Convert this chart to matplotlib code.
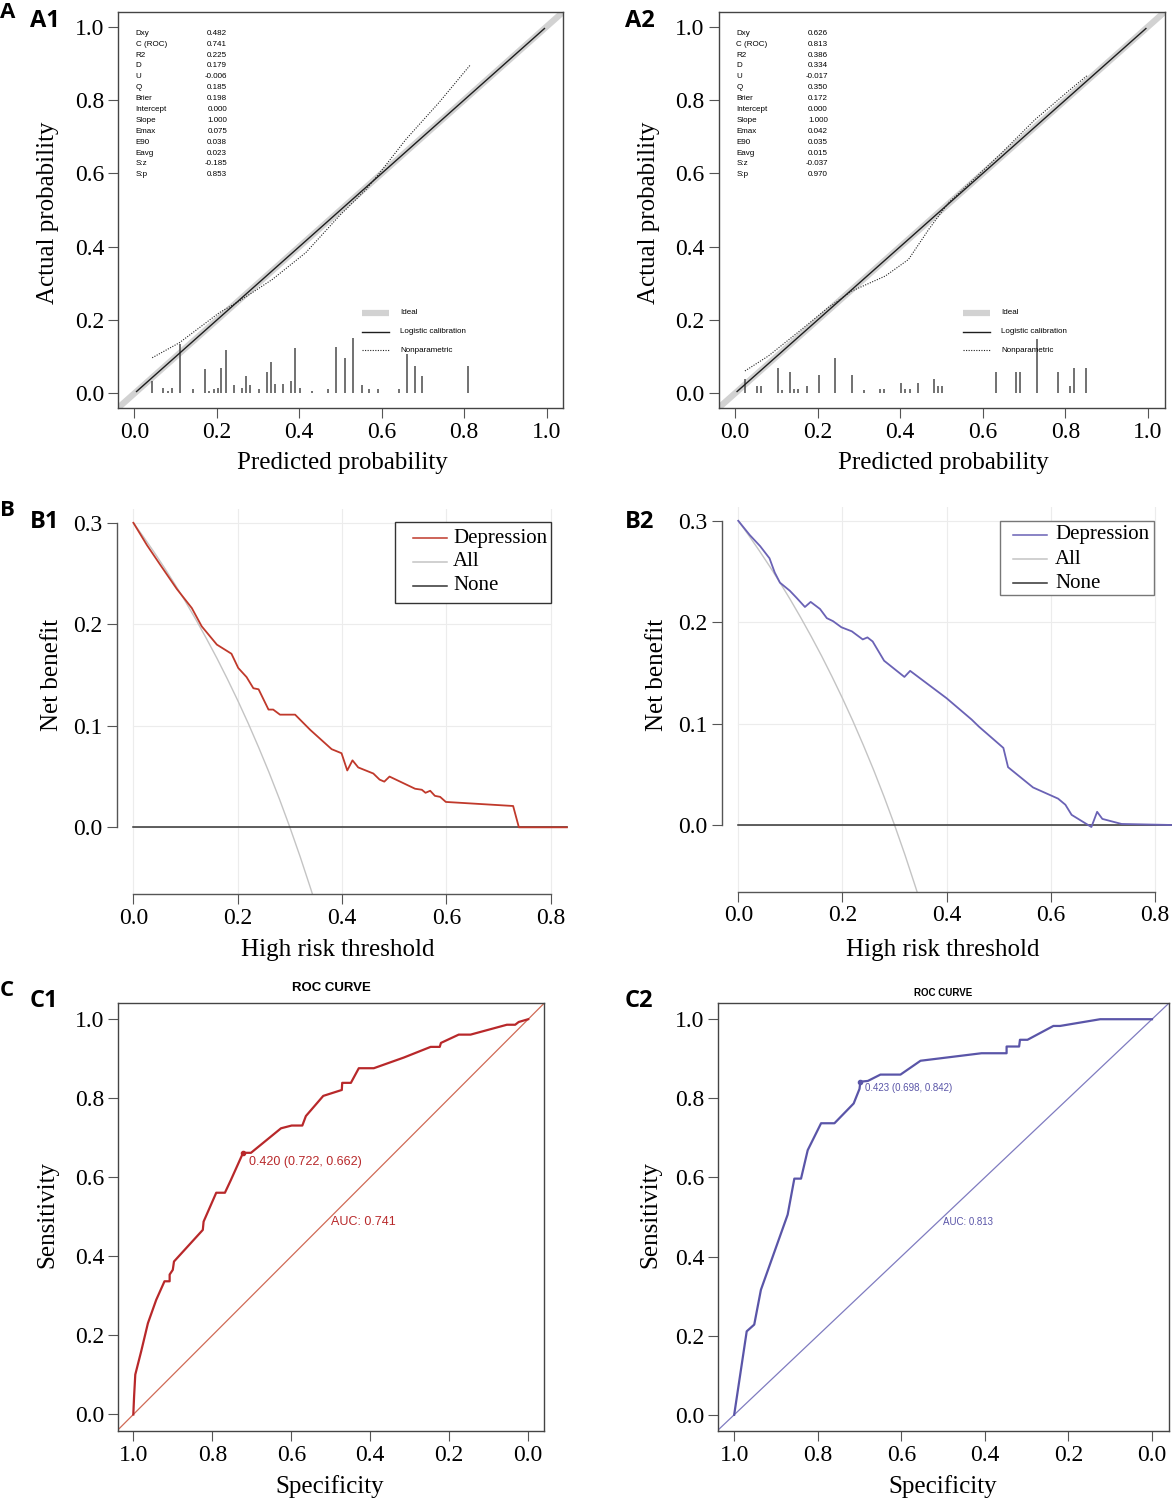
import matplotlib
matplotlib.use('Agg')
import matplotlib.pyplot as plt
from matplotlib.patches import Rectangle

W, H = 1172, 1502
SERIF = ['Liberation Serif', 'DejaVu Serif']
SANS = ['Liberation Sans', 'DejaVu Sans']
BOLD = ['Open Sans', 'DejaVu Sans']
plt.rcParams['font.family'] = SERIF

# ------------------------------------------------------------------ data
stat_names = ["Dxy", "C (ROC)", "R2", "D", "U", "Q", "Brier", "Intercept",
              "Slope", "Emax", "E90", "Eavg", "S:z", "S:p"]
stats_a1 = ["0.482", "0.741", "0.225", "0.179", "-0.006", "0.185", "0.198",
            "0.000", "1.000", "0.075", "0.038", "0.023", "-0.185", "0.853"]
stats_a2 = ["0.626", "0.813", "0.386", "0.334", "-0.017", "0.350", "0.172",
            "0.000", "1.000", "0.042", "0.035", "0.015", "-0.037", "0.970"]

logit_x = [0.005, 0.995]
logit_y = [0.005, 0.995]

np_a1_x = [0.043, 0.109, 0.206, 0.255, 0.335, 0.416, 0.497, 0.562, 0.602, 0.659, 0.739, 0.816]
np_a1_y = [0.097, 0.138, 0.220, 0.252, 0.311, 0.384, 0.484, 0.556, 0.611, 0.693, 0.793, 0.897]
np_a2_x = [0.024, 0.081, 0.162, 0.226, 0.283, 0.364, 0.420, 0.469, 0.517, 0.582, 0.646, 0.727, 0.808, 0.853]
np_a2_y = [0.061, 0.102, 0.175, 0.234, 0.279, 0.320, 0.365, 0.447, 0.520, 0.588, 0.656, 0.747, 0.825, 0.867]

spike_a1_x = [0.042, 0.070, 0.081, 0.091, 0.111, 0.141, 0.171, 0.182, 0.192, 0.202,
              0.210, 0.221, 0.242, 0.261, 0.271, 0.280, 0.301, 0.322, 0.331, 0.341,
              0.361, 0.380, 0.389, 0.402, 0.431, 0.470, 0.490, 0.511, 0.531, 0.551,
              0.570, 0.590, 0.641, 0.661, 0.680, 0.699, 0.810]
spike_a1_h = [0.034, 0.015, 0.006, 0.015, 0.134, 0.011, 0.065, 0.006, 0.011, 0.015,
              0.070, 0.118, 0.022, 0.015, 0.047, 0.022, 0.011, 0.059, 0.085, 0.026,
              0.026, 0.034, 0.123, 0.015, 0.005, 0.011, 0.127, 0.096, 0.150, 0.022,
              0.011, 0.011, 0.011, 0.106, 0.075, 0.047, 0.075]
spike_a2_x = [0.023, 0.053, 0.062, 0.104, 0.113, 0.132, 0.143, 0.153, 0.174, 0.203,
              0.242, 0.283, 0.313, 0.352, 0.361, 0.402, 0.412, 0.423, 0.443, 0.481,
              0.491, 0.501, 0.632, 0.681, 0.691, 0.731, 0.782, 0.810, 0.822, 0.851]
spike_a2_h = [0.040, 0.020, 0.020, 0.070, 0.008, 0.059, 0.011, 0.011, 0.020, 0.049,
              0.097, 0.049, 0.008, 0.011, 0.011, 0.029, 0.011, 0.011, 0.029, 0.040,
              0.020, 0.020, 0.059, 0.059, 0.059, 0.149, 0.059, 0.020, 0.070, 0.070]

# decision curves
thr_all = [0.00, 0.02, 0.04, 0.06, 0.08, 0.10, 0.12, 0.14, 0.16, 0.18, 0.20,
           0.22, 0.24, 0.26, 0.28, 0.30, 0.32, 0.34, 0.345]
nb_all = [0.300, 0.2857, 0.2708, 0.2553, 0.2391, 0.2222, 0.2045, 0.1860, 0.1667,
          0.1463, 0.125, 0.1026, 0.0789, 0.0541, 0.0278, 0.0, -0.0294, -0.0606, -0.0687]
none_x = [0.0, 0.832]
none_y = [0.0, 0.0]

b1_x = [0.000, 0.026, 0.051, 0.083, 0.112, 0.131, 0.160, 0.188, 0.201, 0.217,
        0.230, 0.240, 0.259, 0.268, 0.281, 0.310, 0.339, 0.380, 0.399, 0.410,
        0.420, 0.431, 0.460, 0.472, 0.481, 0.491, 0.540, 0.553, 0.560, 0.569,
        0.578, 0.588, 0.599, 0.728, 0.739, 0.831]
b1_y = [0.300, 0.278, 0.259, 0.235, 0.216, 0.198, 0.180, 0.171, 0.157, 0.148,
        0.137, 0.136, 0.116, 0.116, 0.111, 0.111, 0.096, 0.077, 0.073, 0.056,
        0.066, 0.059, 0.053, 0.047, 0.045, 0.050, 0.038, 0.037, 0.034, 0.036,
        0.031, 0.030, 0.025, 0.021, 0.000, 0.000]
b2_x = [0.000, 0.022, 0.042, 0.060, 0.070, 0.080, 0.099, 0.112, 0.128, 0.139,
        0.157, 0.170, 0.182, 0.198, 0.218, 0.239, 0.248, 0.258, 0.280, 0.319,
        0.330, 0.400, 0.448, 0.462, 0.509, 0.518, 0.566, 0.614, 0.628, 0.640,
        0.678, 0.689, 0.699, 0.736, 0.832]
b2_y = [0.300, 0.286, 0.275, 0.263, 0.249, 0.239, 0.231, 0.224, 0.215, 0.220,
        0.213, 0.204, 0.201, 0.195, 0.191, 0.183, 0.185, 0.181, 0.162, 0.146,
        0.152, 0.125, 0.104, 0.097, 0.076, 0.057, 0.037, 0.026, 0.020, 0.010,
        -0.002, 0.013, 0.006, 0.001, 0.000]

# ROC curves
c1_spec = [1.000, 0.998, 0.995, 0.980, 0.963, 0.942, 0.921, 0.908, 0.908, 0.900,
           0.897, 0.824, 0.822, 0.790, 0.768, 0.753, 0.722, 0.702, 0.626, 0.599,
           0.572, 0.563, 0.519, 0.472, 0.471, 0.449, 0.429, 0.391, 0.315, 0.247,
           0.224, 0.221, 0.176, 0.146, 0.054, 0.033, 0.024, 0.000]
c1_sens = [0.000, 0.046, 0.101, 0.160, 0.231, 0.290, 0.337, 0.337, 0.354, 0.366,
           0.387, 0.467, 0.488, 0.561, 0.561, 0.593, 0.662, 0.662, 0.724, 0.731,
           0.731, 0.755, 0.806, 0.821, 0.839, 0.839, 0.876, 0.876, 0.903, 0.930,
           0.930, 0.940, 0.961, 0.961, 0.986, 0.986, 0.993, 1.000]
c2_spec = [1.000, 0.970, 0.952, 0.936, 0.872, 0.856, 0.840, 0.824, 0.792, 0.760,
           0.714, 0.700, 0.698, 0.680, 0.650, 0.602, 0.554, 0.408, 0.348, 0.348,
           0.318, 0.316, 0.298, 0.236, 0.220, 0.124, 0.000]
c2_sens = [0.000, 0.211, 0.228, 0.316, 0.506, 0.597, 0.597, 0.669, 0.737, 0.737,
           0.787, 0.824, 0.842, 0.844, 0.860, 0.860, 0.895, 0.914, 0.914, 0.931,
           0.931, 0.948, 0.948, 0.983, 0.983, 1.000, 1.000]
c1_best = (0.722, 0.662, 0.420)
c2_best = (0.698, 0.842, 0.423)
c1_auc = 0.741
c2_auc = 0.813

calib_ticks = [0.0, 0.2, 0.4, 0.6, 0.8, 1.0]
calib_tick_labels = ["0.0", "0.2", "0.4", "0.6", "0.8", "1.0"]
dca_xticks = [0.0, 0.2, 0.4, 0.6, 0.8]
dca_xlabels = ["0.0", "0.2", "0.4", "0.6", "0.8"]
dca_yticks = [0.0, 0.1, 0.2, 0.3]
dca_ylabels = ["0.0", "0.1", "0.2", "0.3"]
roc_xticks = [1.0, 0.8, 0.6, 0.4, 0.2, 0.0]
roc_xlabels = ["1.0", "0.8", "0.6", "0.4", "0.2", "0.0"]
roc_yticks = [0.0, 0.2, 0.4, 0.6, 0.8, 1.0]
roc_ylabels = ["0.0", "0.2", "0.4", "0.6", "0.8", "1.0"]

# ------------------------------------------------------------------ figure
fig = plt.figure(figsize=(W / 100, H / 100), dpi=100)


def add_ax(x0, y0, x1, y1):
    return fig.add_axes([x0 / W, 1 - y1 / H, (x1 - x0) / W, (y1 - y0) / H])


TICKFS = 17
LABFS = 18


def style_ticks(ax):
    ax.tick_params(direction='out', length=7, width=0.8, labelsize=TICKFS, pad=3,
                   color='#555555')


# ---------------- A: calibration
def calib(ax, sx, sh, nx, ny, stats):
    ax.set_xlim(-0.04, 1.04)
    ax.set_ylim(-0.04, 1.04)
    ax.plot([-0.04, 1.04], [-0.04, 1.04], color='#d2d2d2', lw=4.5,
            solid_capstyle='butt', zorder=1)
    ax.plot(logit_x, logit_y, color='#1e1e1e', lw=1.0, zorder=3)
    ax.plot(nx, ny, color='#222222', lw=0.8, ls=(0, (1, 1.3)), zorder=3)
    ax.vlines(sx, 0, sh, color='#4a4a4a', lw=1.1, zorder=2)
    for i, (nm, v) in enumerate(zip(stat_names, stats)):
        yy = 0.982 - i * 0.0297
        ax.text(0.003, yy, nm, fontsize=5.8, family=SANS, va='center', ha='left')
        ax.text(0.225, yy, v, fontsize=5.8, family=SANS, va='center', ha='right')
    # legend
    ax.plot([0.553, 0.618], [0.220, 0.220], color='#d2d2d2', lw=4.5, solid_capstyle='butt')
    ax.plot([0.553, 0.618], [0.168, 0.168], color='#1e1e1e', lw=1.0)
    ax.plot([0.553, 0.618], [0.118, 0.118], color='#222222', lw=0.8, ls=(0, (1, 1.3)))
    for yy, t in zip([0.220, 0.168, 0.118], ["Ideal", "Logistic calibration", "Nonparametric"]):
        ax.text(0.645, yy, t, fontsize=5.8, family=SANS, va='center', ha='left')
    ax.set_xticks(calib_ticks)
    ax.set_xticklabels(calib_tick_labels)
    ax.set_yticks(calib_ticks)
    ax.set_yticklabels(calib_tick_labels)
    for s in ax.spines.values():
        s.set_color('#444444')
        s.set_linewidth(1.0)
    style_ticks(ax)


axA1 = add_ax(118, 12, 563, 408)
calib(axA1, spike_a1_x, spike_a1_h, np_a1_x, np_a1_y, stats_a1)
axA2 = add_ax(718.5, 12, 1164.5, 408)
calib(axA2, spike_a2_x, spike_a2_h, np_a2_x, np_a2_y, stats_a2)


# ---------------- B: decision curves
def dca(ax, x, y, color):
    ymin, ymax = -0.0657, 0.314
    ax.set_xlim(-0.032, 0.865)
    ax.set_ylim(ymin, ymax)
    ax.patch.set_visible(False)
    for gx in dca_xticks:
        ax.plot([gx, gx], [ymin, ymax], color='#ececec', lw=0.8, zorder=0)
    for gy in dca_yticks:
        ax.plot([0, 0.8], [gy, gy], color='#ececec', lw=0.8, zorder=0)
    ax.plot(thr_all, nb_all, color='#c4c4c4', lw=1.0, zorder=2)
    ax.plot(none_x, none_y, color='#333333', lw=1.1, zorder=2)
    ax.plot(x, y, color=color, lw=1.3, zorder=3)
    for s in ['top', 'right']:
        ax.spines[s].set_visible(False)
    ax.spines['left'].set_bounds(0, 0.3)
    ax.spines['bottom'].set_bounds(0, 0.8)
    for s in ['left', 'bottom']:
        ax.spines[s].set_color('#555555')
        ax.spines[s].set_linewidth(1.0)
    ax.set_xticks(dca_xticks)
    ax.set_xticklabels(dca_xlabels)
    ax.set_yticks(dca_yticks)
    ax.set_yticklabels(dca_ylabels)
    style_ticks(ax)


axB1 = add_ax(116.7, 508.6, 584.6, 894)
dca(axB1, b1_x, b1_y, '#c0392b')
axB2 = add_ax(721.6, 506.6, 1188.8, 891.6)
dca(axB2, b2_x, b2_y, '#6a62b5')


# ---------------- C: ROC
def roc(ax, spec, sens, color, dcolor, best, auc, fs, best_pos, auc_pos):
    ax.set_xlim(1.038, -0.04)
    ax.set_ylim(-0.041, 1.041)
    ax.plot([1.2, -0.2], [-0.2, 1.2], color=dcolor, lw=0.9, zorder=1)
    ax.plot(spec, sens, color=color, lw=1.6, zorder=3)
    ax.plot([best[0]], [best[1]], 'o', color=color, ms=3, zorder=4)
    ax.text(best_pos[0], best_pos[1], "%.3f (%.3f, %.3f)" % (best[2], best[0], best[1]),
            color=color, fontsize=fs, family=SANS, ha='left', va='center')
    ax.text(auc_pos[0], auc_pos[1], "AUC: %.3f" % auc, color=color, fontsize=fs,
            family=SANS, ha='left', va='center')
    ax.set_xticks(roc_xticks)
    ax.set_xticklabels(roc_xlabels)
    ax.set_yticks(roc_yticks)
    ax.set_yticklabels(roc_ylabels)
    for s in ax.spines.values():
        s.set_color('#444444')
        s.set_linewidth(1.0)
    style_ticks(ax)


axC1 = add_ax(118.3, 1003, 544, 1430.7)
roc(axC1, c1_spec, c1_sens, '#b8282a', '#d06a55', c1_best, c1_auc, 9,
    (0.706, 0.640), (0.4995, 0.486))
axC2 = add_ax(718.3, 1003, 1168.7, 1431)
roc(axC2, c2_spec, c2_sens, '#5a55a8', '#7f7bc0', c2_best, c2_auc, 7,
    (0.688, 0.826), (0.4995, 0.488))

# ---------------- overlay: labels, legends, titles
ov = fig.add_axes([0, 0, 1, 1])
ov.set_xlim(0, W)
ov.set_ylim(H, 0)
ov.axis('off')
ov.set_zorder(20)
ov.patch.set_alpha(0)


def t(x, y, s, **kw):
    ov.text(x, y, s, **kw)


# panel letters
for (x, y, s) in [(0, 13, "A"), (30, 21, "A1"), (625, 21, "A2"),
                  (0, 510, "B"), (30, 522, "B1"), (625, 522, "B2"),
                  (0, 990, "C"), (30, 1001, "C1"), (625, 1001, "C2")]:
    t(x, y, s, family=BOLD, fontweight='bold', fontsize=17 if len(s) > 1 else 16,
      ha='left', va='center')

# axis labels
for x in (48, 649):
    t(x, 213, "Actual probability", rotation=90, ha='center', va='center', fontsize=LABFS)
for x in (342, 943):
    t(x, 463, "Predicted probability", ha='center', va='center', fontsize=LABFS)
for x in (52, 657):
    t(x, 675, "Net benefit", rotation=90, ha='center', va='center', fontsize=LABFS)
for x in (338, 943):
    t(x, 950, "High risk threshold", ha='center', va='center', fontsize=LABFS)
for x in (47, 650):
    t(x, 1215, "Sensitivity", rotation=90, ha='center', va='center', fontsize=LABFS)
for x in (330, 943):
    t(x, 1487, "Specificity", ha='center', va='center', fontsize=LABFS)

# ROC titles
t(331, 988, "ROC CURVE", family=SANS, fontweight='bold', fontsize=9.5, ha='center', va='center')
t(943, 993, "ROC CURVE", family=SANS, fontweight='bold', fontsize=7, ha='center', va='center')


# DCA legends
def dca_legend(box, ys, x0, x1, xt, color, ec):
    bx0, by0, bx1, by1 = box
    ov.add_patch(Rectangle((bx0, by0), bx1 - bx0, by1 - by0, facecolor='white',
                           edgecolor=ec, lw=1.0, zorder=5))
    cols = [color, '#c4c4c4', '#333333']
    for yy, c, s in zip(ys, cols, ["Depression", "All", "None"]):
        ov.plot([x0, x1], [yy, yy], color=c, lw=1.1, zorder=6)
        t(xt, yy, s, fontsize=15, ha='left', va='center', zorder=6)


dca_legend((395.3, 522.3, 550.7, 603.3), [538.3, 561.7, 586], 413, 447, 453,
           '#c0392b', '#333333')
dca_legend((999.7, 520.7, 1154.3, 595.3), [535, 559.3, 583.3], 1013.3, 1046.7, 1055,
           '#6a62b5', '#777777')

fig.savefig('out.png', dpi=100)
